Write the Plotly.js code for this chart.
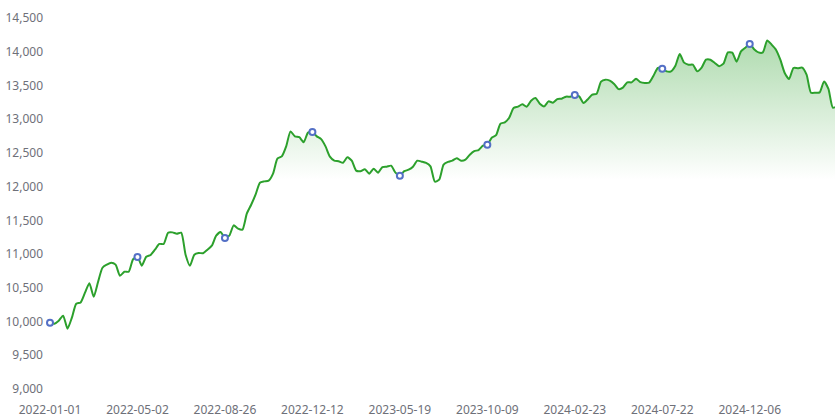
<!DOCTYPE html>
<html>
<head>
<meta charset="utf-8">
<script src="https://cdn.plot.ly/plotly-3.0.1.min.js"></script>
<style>
html,body{margin:0;padding:0;background:#fff;}
#chart{width:835px;height:417px;}
</style>
</head>
<body>
<div id="chart"></div>
<script>
// Tick labels (category dates shown on the x axis, every 20th sample)
var tickLabels = ['2022-01-01','2022-05-02','2022-08-26','2022-12-12','2023-05-19','2023-10-09','2024-02-23','2024-07-22','2024-12-06'];
var tickStep = 20;

// Series values
var values = [
  9983, 9968,10013,10087, 9894,10057,10265,10284,10428,10569,
 10368,10591,10798,10843,10873,10843,10680,10739,10739,10924,
 10957,10828,10961,10987,11065,11150,11150,11317,11322,11302,
 11317,10991,10828,10991,11016,11013,11065,11125,11273,11328,
 11239,11273,11426,11377,11362,11599,11732,11881,12059,12078,
 12088,12192,12414,12449,12597,12819,12745,12733,12659,12800,
 12810,12745,12704,12597,12444,12385,12377,12355,12434,12385,
 12237,12229,12259,12192,12266,12207,12291,12296,12311,12207,
 12162,12229,12251,12296,12385,12370,12351,12300,12073,12103,
 12325,12366,12385,12422,12385,12400,12474,12526,12543,12607,
 12622,12726,12763,12933,12953,13022,13166,13185,13222,13185,
 13274,13314,13230,13190,13264,13245,13297,13304,13334,13334,
 13359,13338,13240,13297,13363,13378,13556,13586,13571,13522,
 13445,13467,13546,13546,13600,13549,13537,13541,13645,13759,
 13749,13709,13709,13793,13967,13838,13808,13808,13709,13764,
 13882,13882,13833,13786,13823,13990,13986,13853,14005,14060,
 14115,14038,13990,13990,14168,14105,14030,13882,13685,13596,
 13759,13756,13764,13660,13393,13393,13397,13560,13448,13171,
 13190
];

var xs = values.map(function(_, i){ return i; });
var tickVals = tickLabels.map(function(_, k){ return k * tickStep; });
var markY = tickVals.map(function(i){ return values[i]; });

var font = {family: '"Noto Sans", "Open Sans", sans-serif', size: 12, color: '#6E7079'};

var traces = [
  {
    x: xs, y: values, type: 'scatter', mode: 'lines',
    line: {color: '#2ca02c', width: 2, shape: 'spline', smoothing: 0.6},
    fill: 'tozeroy',
    fillgradient: {
      type: 'vertical', start: 12100, stop: 14170,
      colorscale: [[0, 'rgba(44,160,44,0)'], [1, 'rgba(44,160,44,0.38)']]
    },
    hoverinfo: 'skip', showlegend: false
  },
  {
    x: tickVals, y: markY, type: 'scatter', mode: 'markers',
    cliponaxis: false,
    marker: {size: 6, color: '#ffffff', line: {color: '#5470c6', width: 2}},
    hoverinfo: 'skip', showlegend: false
  }
];

var layout = {
  width: 835, height: 417,
  margin: {l: 50, r: 0, t: 18, b: 28},
  paper_bgcolor: '#ffffff', plot_bgcolor: '#ffffff',
  font: font,
  showlegend: false,
  xaxis: {
    range: [0, 179.5], showgrid: false, zeroline: false, showline: false,
    tickmode: 'array', tickvals: tickVals, ticktext: tickLabels,
    ticks: '', ticklabelstandoff: 12, tickfont: font, fixedrange: true
  },
  yaxis: {
    range: [9000, 14500], dtick: 500, tick0: 9000, tickformat: ',d',
    showgrid: false, zeroline: false, showline: false,
    ticks: '', ticklabelstandoff: 6, tickfont: font, fixedrange: true
  }
};

Plotly.newPlot('chart', traces, layout, {displayModeBar: false, staticPlot: true});
</script>
</body>
</html>
